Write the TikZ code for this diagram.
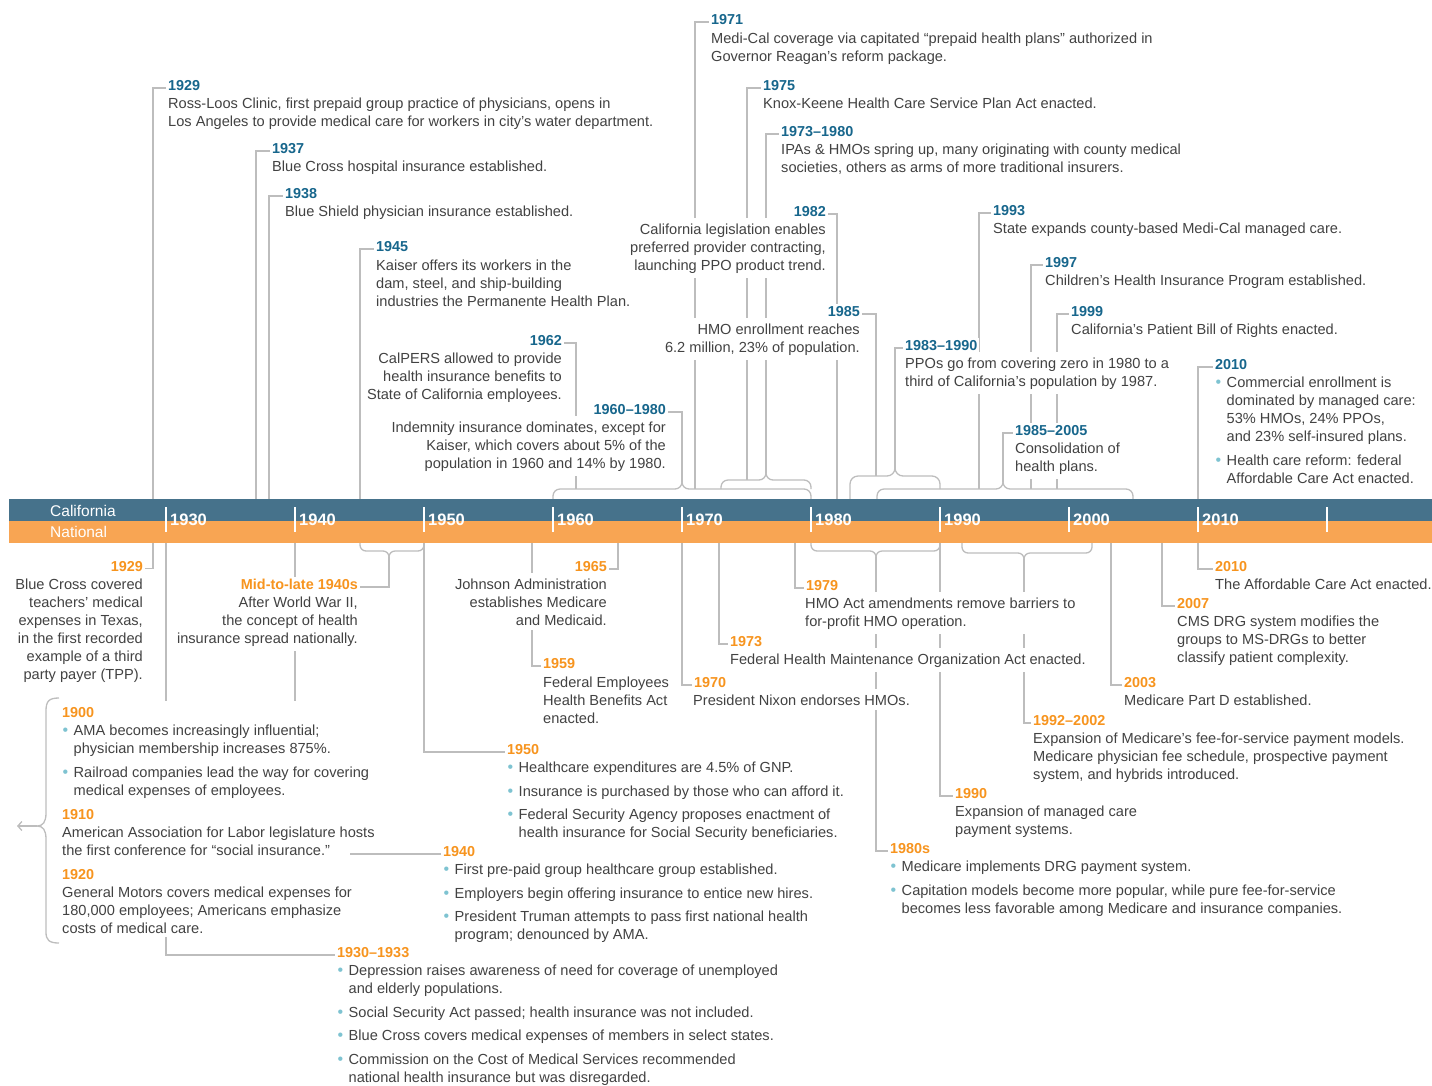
\documentclass[tikz,border=0pt]{standalone}
\usepackage{fontspec}
\setmainfont{Liberation Sans}
\usetikzlibrary{arrows.meta}
\definecolor{calblue}{HTML}{46728B}
\definecolor{natorange}{HTML}{F8A553}
\definecolor{yblue}{HTML}{17668C}
\definecolor{yorange}{HTML}{F7941E}
\definecolor{txtc}{HTML}{424242}
\definecolor{linec}{HTML}{BDBDBD}
\definecolor{bullc}{HTML}{7EC3D1}
\pgfdeclarelayer{bg}
\pgfsetlayers{bg,main}
\newcommand\labfont{\fontsize{14.4}{16}\selectfont\bfseries}
\newcommand\txtfont{\fontsize{14.6}{18}\selectfont}
\newcommand\st{\rule{0pt}{13pt}}
\newcommand\bul{\makebox[11.5pt][l]{\hspace{0.5pt}\textcolor{bullc}{\fontsize{16}{16}\selectfont•}}}
\newcommand\ind{\hspace*{11.5pt}}
\newcommand\lbo[1]{{\labfont\color{yorange}#1}}
\begin{document}
\begin{tikzpicture}[x=1pt,y=-1pt,
  lnk/.style={draw=linec, line width=1.3pt},
  brc/.style={draw=linec, line width=1.3pt, rounded corners=7pt},
  labc/.style={font=\labfont, text=yblue, fill=white, inner sep=2pt},
  labn/.style={font=\labfont, text=yorange, fill=white, inner sep=2pt},
  txtb/.style={font=\txtfont, text=txtc, fill=white, inner xsep=3pt, inner ysep=4pt},
  dec/.style={font=\fontsize{16.5}{16.5}\selectfont\bfseries, text=white, inner sep=0pt},
  band/.style={font=\fontsize{15.5}{15.5}\selectfont, text=white, inner sep=0pt}]
\useasboundingbox (0,0) rectangle (1432,1085);

% ---------- band ----------
\fill[calblue] (9,499) rectangle (1432,521);
\fill[natorange] (9,521) rectangle (1432,543);
\foreach \k in {0,...,9} \draw[white, line width=2pt] ({166+129*\k},507) -- ({166+129*\k},532);
\foreach \k in {0,...,8} {
  \pgfmathtruncatemacro\yr{1930+10*\k}
  \node[dec, anchor=base west] (d\yr) at ({170+129*\k},525) {\yr};
}
\node[band, anchor=base west] (calif) at (50,516.5) {California};
\node[band, anchor=base west] (natl) at (50,537.5) {National};

% ---------- band anchor coordinates ----------
\coordinate (a1) at (153,499); \coordinate (a2) at (256,499); \coordinate (a3) at (269,499);
\coordinate (a4) at (360,499); \coordinate (a5) at (576,489); \coordinate (a6) at (682,482);
\coordinate (a7) at (695,489); \coordinate (a8) at (747,480); \coordinate (a9) at (766,473);
\coordinate (a10) at (837,499); \coordinate (a11) at (876,476); \coordinate (a12) at (895,469);
\coordinate (a13) at (979,489); \coordinate (a14) at (1031,489); \coordinate (a15) at (1057,489);
\coordinate (a16) at (1003,482); \coordinate (a17) at (1198,499);
\coordinate (n1) at (153,543); \coordinate (n2) at (389,557); \coordinate (n3) at (424,543);
\coordinate (n4) at (618,543); \coordinate (n5) at (532,543); \coordinate (n6) at (682,543);
\coordinate (n7) at (719,543); \coordinate (n8) at (795,543); \coordinate (n9) at (876,557);
\coordinate (n10) at (940,543); \coordinate (n11) at (1024,559); \coordinate (n12) at (1111,543);
\coordinate (n13) at (1162,543); \coordinate (n14) at (1198,543); \coordinate (n15) at (295,543);
\coordinate (n16) at (166,543); \coordinate (k1940) at (350,854);

% ---------- California (upper) ----------
\node[labc,anchor=base west] (U1) at (166,90.5) {1929};
\node[txtb,anchor=north west,align=left] (U1t) at (165,91.5) {\st Ross-Loos Clinic, first prepaid group practice of physicians, opens in\\Los Angeles to provide medical care for workers in city’s water department.};
\node[labc,anchor=base west] (U2) at (270,153.5) {1937};
\node[txtb,anchor=north west,align=left] (U2t) at (269,154.5) {\st Blue Cross hospital insurance established.};
\node[labc,anchor=base west] (U3) at (283,198.5) {1938};
\node[txtb,anchor=north west,align=left] (U3t) at (282,199.5) {\st Blue Shield physician insurance established.};
\node[labc,anchor=base west] (U4) at (374,251.5) {1945};
\node[txtb,anchor=north west,align=left] (U4t) at (373,253.5) {\st Kaiser offers its workers in the\\dam, steel, and ship-building\\industries the Permanente Health Plan.};
\node[labc,anchor=base east] (U5) at (564,345.5) {1962};
\node[txtb,anchor=north east,align=right] (U5t) at (565,346.5) {\st CalPERS allowed to provide\\health insurance benefits to\\State of California employees.};
\node[labc,anchor=base east] (U6) at (668,414.5) {1960–1980};
\node[txtb,anchor=north east,align=right] (U6t) at (669,415.5) {\st Indemnity insurance dominates, except for\\Kaiser, which covers about 5\% of the\\population in 1960 and 14\% by 1980.};
\node[labc,anchor=base west] (U7) at (709,24.5) {1971};
\node[txtb,anchor=north west,align=left] (U7t) at (708,26.5) {\st Medi-Cal coverage via capitated “prepaid health plans” authorized in\\Governor Reagan’s reform package.};
\node[labc,anchor=base west] (U8) at (761,90.5) {1975};
\node[txtb,anchor=north west,align=left] (U8t) at (760,91.5) {\st Knox-Keene Health Care Service Plan Act enacted.};
\node[labc,anchor=base west] (U9) at (779,136.5) {1973–1980};
\node[txtb,anchor=north west,align=left] (U9t) at (778,137.5) {\st IPAs \& HMOs spring up, many originating with county medical\\societies, others as arms of more traditional insurers.};
\node[labc,anchor=base east] (U10) at (828,216.5) {1982};
\node[txtb,anchor=north east,align=right] (U10t) at (829,217.5) {\st California legislation enables\\preferred provider contracting,\\launching PPO product trend.};
\node[labc,anchor=base east] (U11) at (862,316.5) {1985};
\node[txtb,anchor=north east,align=right] (U11t) at (863,317.5) {\st HMO enrollment reaches\\6.2 million, 23\% of population.};
\node[labc,anchor=base west] (U12) at (903,350.5) {1983–1990};
\node[txtb,anchor=north west,align=left] (U12t) at (902,351.5) {\st PPOs go from covering zero in 1980 to a\\third of California’s population by 1987.};
\node[labc,anchor=base west] (U13) at (991,215.5) {1993};
\node[txtb,anchor=north west,align=left] (U13t) at (990,216.5) {\st State expands county-based Medi-Cal managed care.};
\node[labc,anchor=base west] (U14) at (1043,267.5) {1997};
\node[txtb,anchor=north west,align=left] (U14t) at (1042,268.5) {\st Children’s Health Insurance Program established.};
\node[labc,anchor=base west] (U15) at (1069,316.5) {1999};
\node[txtb,anchor=north west,align=left] (U15t) at (1068,317.5) {\st California’s Patient Bill of Rights enacted.};
\node[labc,anchor=base west] (U16) at (1013,435.5) {1985–2005};
\node[txtb,anchor=north west,align=left] (U16t) at (1012,436.5) {\st Consolidation of\\health plans.};
\node[labc,anchor=base west] (U17) at (1213,369.5) {2010};
\node[txtb,anchor=north west,align=left] (U17t) at (1212,370.5) {\st\bul Commercial enrollment is\\\ind dominated by managed care:\\\ind 53\% HMOs, 24\% PPOs,\\\ind and 23\% self-insured plans.\\[5.5pt]\bul Health care reform: federal\\\ind Affordable Care Act enacted.};

% ---------- National (lower) ----------
\node[labn,anchor=base east] (L1) at (145,571) {1929};
\node[txtb,anchor=north east,align=right] (L1t) at (146,572.5) {\st Blue Cross covered\\teachers’ medical\\expenses in Texas,\\in the first recorded\\example of a third\\party payer (TPP).};
\node[labn,anchor=base east] (L2) at (360,589.5) {Mid-to-late 1940s};
\node[txtb,anchor=north east,align=right] (L2t) at (361,590.5) {\st After World War II,\\the concept of health\\insurance spread nationally.};
\node[labn,anchor=base west] (L3) at (505,754.5) {1950};
\node[txtb,anchor=north west,align=left] (L3t) at (504,755.5) {\st\bul Healthcare expenditures are 4.5\% of GNP.\\[5.5pt]\bul Insurance is purchased by those who can afford it.\\[5.5pt]\bul Federal Security Agency proposes enactment of\\\ind health insurance for Social Security beneficiaries.};
\node[labn,anchor=base east] (L4) at (609,571.5) {1965};
\node[txtb,anchor=north east,align=right] (L4t) at (610,572.5) {\st Johnson Administration\\establishes Medicare\\and Medicaid.};
\node[labn,anchor=base west] (L5) at (541,668.5) {1959};
\node[txtb,anchor=north west,align=left] (L5t) at (540,670.5) {\st Federal Employees\\Health Benefits Act\\enacted.};
\node[labn,anchor=base west] (L6) at (692,687.5) {1970};
\node[txtb,anchor=north west,align=left] (L6t) at (690,688.5) {\st President Nixon endorses HMOs.};
\node[labn,anchor=base west] (L7) at (728,646.5) {1973};
\node[txtb,anchor=north west,align=left] (L7t) at (727,647.5) {\st Federal Health Maintenance Organization Act enacted.};
\node[labn,anchor=base west] (L8) at (804,590.5) {1979};
\node[txtb,anchor=north west,align=left] (L8t) at (802,591.5) {\st HMO Act amendments remove barriers to\\for-profit HMO operation.};
\node[labn,anchor=base west] (L9) at (888,853.5) {1980s};
\node[txtb,anchor=north west,align=left] (L9t) at (887,854.5) {\st\bul Medicare implements DRG payment system.\\[5.5pt]\bul Capitation models become more popular, while pure fee-for-service\\\ind becomes less favorable among Medicare and insurance companies.};
\node[labn,anchor=base west] (L10) at (953,798.5) {1990};
\node[txtb,anchor=north west,align=left] (L10t) at (952,799.5) {\st Expansion of managed care\\payment systems.};
\node[labn,anchor=base west] (L11) at (1031,725.5) {1992–2002};
\node[txtb,anchor=north west,align=left] (L11t) at (1030,726.5) {\st Expansion of Medicare’s fee-for-service payment models.\\Medicare physician fee schedule, prospective payment\\system, and hybrids introduced.};
\node[labn,anchor=base west] (L12) at (1122,687.5) {2003};
\node[txtb,anchor=north west,align=left] (L12t) at (1121,688.5) {\st Medicare Part D established.};
\node[labn,anchor=base west] (L13) at (1175,608.5) {2007};
\node[txtb,anchor=north west,align=left] (L13t) at (1174,609.5) {\st CMS DRG system modifies the\\groups to MS-DRGs to better\\classify patient complexity.};
\node[labn,anchor=base west] (L14) at (1213,571.5) {2010};
\node[txtb,anchor=north west,align=left] (L14t) at (1212,572.5) {\st The Affordable Care Act enacted.};
\node[labn,anchor=base west] (L15) at (441,856.5) {1940};
\node[txtb,anchor=north west,align=left] (L15t) at (440,857.5) {\st\bul First pre-paid group healthcare group established.\\[5.5pt]\bul Employers begin offering insurance to entice new hires.\\[5.5pt]\bul President Truman attempts to pass first national health\\\ind program; denounced by AMA.};
\node[labn,anchor=base west] (L16) at (335,957.5) {1930–1933};
\node[txtb,anchor=north west,align=left] (L16t) at (334,958.5) {\st\bul Depression raises awareness of need for coverage of unemployed\\\ind and elderly populations.\\[5.5pt]\bul Social Security Act passed; health insurance was not included.\\[5.5pt]\bul Blue Cross covers medical expenses of members in select states.\\[5.5pt]\bul Commission on the Cost of Medical Services recommended\\\ind national health insurance but was disregarded.};
\node[txtb,anchor=north west,align=left] (L17t) at (59,700.5) {\st\lbo{1900}\\\bul AMA becomes increasingly influential;\\\ind physician membership increases 875\%.\\[5.5pt]\bul Railroad companies lead the way for covering\\\ind medical expenses of employees.\\[6pt]\lbo{1910}\\American Association for Labor legislature hosts\\the first conference for “social insurance.”\\[6pt]\lbo{1920}\\General Motors covers medical expenses for\\180,000 employees; Americans emphasize\\costs of medical care.};

% ---------- connectors (behind the texts) ----------
\begin{pgfonlayer}{bg}
\foreach \u in {1,2,3,4,7,8,9,12,13,14,15,16,17}
  \draw[lnk] ([yshift=2.5pt]U\u.base west) -| (a\u);
\foreach \u in {5,6,10,11}
  \draw[lnk] ([yshift=2.5pt]U\u.base east) -| (a\u);
\foreach \l in {3,5,6,7,8,9,10,11,12,13,14,15,16}
  \draw[lnk] ([yshift=2.5pt]L\l.base west) -| (n\l);
\foreach \l in {1,2,4}
  \draw[lnk] ([yshift=2.5pt]L\l.base east) -| (n\l);
% upper brackets
\draw[brc] (553,499) -- (553,489) -- (682,489) -- (682,470);
\draw[brc] (811,499) -- (811,489) -- (682,489) -- (682,470);
\draw[brc] (721,489) -- (721,480) -- (766,480) -- (766,463);
\draw[brc] (811,489) -- (811,480) -- (766,480) -- (766,463);
\draw[brc,rounded corners=8pt] (850,499) -- (850,476) -- (895,476) -- (895,457);
\draw[brc,rounded corners=8pt] (940,489) -- (940,476) -- (895,476) -- (895,457);
\draw[brc] (877,499) -- (877,489) -- (1003,489) -- (1003,470);
\draw[brc] (1133,499) -- (1133,489) -- (1003,489) -- (1003,470);
% lower brackets
\draw[brc,rounded corners=6pt] (360,543) -- (360,551) -- (389,551) -- (389,570);
\draw[brc,rounded corners=6pt] (424,543) -- (424,551) -- (389,551) -- (389,570);
\draw[brc,rounded corners=6pt] (811,543) -- (811,551) -- (876,551) -- (876,570);
\draw[brc,rounded corners=6pt] (940,543) -- (940,551) -- (876,551) -- (876,570);
\draw[brc,rounded corners=6pt] (962,543) -- (962,553) -- (1024,553) -- (1024,572);
\draw[brc,rounded corners=6pt] (1092,543) -- (1092,553) -- (1024,553) -- (1024,572);
% left brace of the 1900--1920 group
\draw[lnk] (59,698) .. controls (49,698) and (46,701) .. (46,711) -- (46,813)
  .. controls (46,822) and (43,826) .. (37,826)
  .. controls (43,826) and (46,830) .. (46,839) -- (46,932)
  .. controls (46,940) and (49,943) .. (59,943);
\coordinate (brtip) at (37,826);
\coordinate (brend) at (17,826);
\draw[lnk,-{Straight Barb[length=4pt,width=9pt]}] (brtip) -- (brend);
\end{pgfonlayer}
% visible part of the 1940 connector
\draw[lnk] (k1940) -- ([yshift=2.5pt]L15.base west);
\end{tikzpicture}
\end{document}
